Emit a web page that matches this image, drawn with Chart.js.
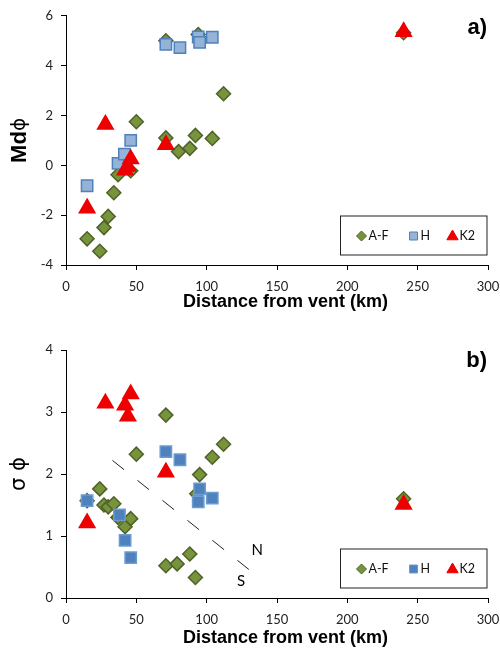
<!DOCTYPE html>
<html lang="en">
<head>
  <meta charset="UTF-8" />
  <title>Md and sorting vs distance from vent</title>
  <script src="https://cdn.jsdelivr.net/npm/chart.js@4"></script>
  <style>
    html, body { margin: 0; padding: 0; background: #fff; }
    body { width: 500px; height: 655px; overflow: hidden; }
    canvas { display: block; }
  </style>
</head>
<body>
  <canvas id="chartA" width="500" height="320"></canvas>
  <canvas id="chartB" width="500" height="335"></canvas>

  <script>
    // axis ticks
    const xTicks = [0, 50, 100, 150, 200, 250, 300];
    const mdTicks = [-4, -2, 0, 2, 4, 6];
    const sigmaTicks = [0, 1, 2, 3, 4];

    // panel a) median grain size, Md phi
    const afDistA = [15, 24, 27, 30, 34, 37, 46, 50, 71, 71, 80, 88, 92, 94, 104, 112, 240];
    const afMd    = [-2.95, -3.45, -2.5, -2.05, -1.1, -0.38, -0.22, 1.75, 5.0, 1.1, 0.55, 0.68, 1.2, 5.25, 1.08, 2.87, 5.32];
    const hDistA  = [15, 37, 41.5, 46, 71, 81, 94, 95, 104];
    const hMd     = [-0.82, 0.08, 0.45, 1.0, 4.85, 4.72, 5.15, 4.93, 5.14];
    const k2DistA = [15, 28, 42, 44, 46, 71, 240];
    const k2Md    = [-1.72, 1.64, -0.2, -0.05, 0.25, 0.83, 5.36];

    // panel b) sorting, sigma phi
    const afDistB  = [15, 24, 27, 30, 34, 37, 42, 46, 50, 71, 71, 79, 88, 92, 93, 95, 104, 112, 240];
    const afSigma  = [1.57, 1.76, 1.5, 1.47, 1.52, 1.3, 1.15, 1.28, 2.32, 2.95, 0.52, 0.55, 0.71, 0.33, 1.68, 1.99, 2.27, 2.48, 1.6];
    const hDistB   = [15, 38, 42, 46, 71, 81, 94, 95, 104];
    const hSigma   = [1.57, 1.34, 0.93, 0.65, 2.36, 2.23, 1.55, 1.76, 1.61];
    const k2DistB  = [15, 28, 42, 44, 46, 71, 240];
    const k2Sigma  = [1.21, 3.14, 3.11, 2.93, 3.29, 2.03, 1.51];

    // N / S divide (dashed), in data units
    const divideDist  = [33, 130];
    const divideSigma = [2.22, 0.46];
    const divideText  = ['N', 'S'];
    const divideTextAt = [[136, 0.77], [124.5, 0.27]];

    const pts = (xs, ys) => xs.map((x, i) => ({ x, y: ys[i] }));

    const FONT = 'Lato, "Liberation Sans", sans-serif';

    function marker(ctx, style, x, y, r) {
      ctx.beginPath();
      if (style === 'rectRot') {
        ctx.moveTo(x, y - r); ctx.lineTo(x + r, y); ctx.lineTo(x, y + r); ctx.lineTo(x - r, y);
      } else if (style === 'rect') {
        ctx.rect(x - r, y - r, 2 * r, 2 * r);
      } else {
        ctx.moveTo(x, y - r); ctx.lineTo(x + r * 0.87, y + r * 0.5); ctx.lineTo(x - r * 0.87, y + r * 0.5);
      }
      ctx.closePath();
      ctx.fill();
      ctx.stroke();
    }

    function decor(opt) {
      return {
        id: 'decor',
        afterDraw(chart) {
          const { ctx, chartArea: a, scales } = chart;
          ctx.save();

          // x title
          ctx.fillStyle = '#000';
          ctx.font = 'bold 18px "Liberation Sans", Arial, sans-serif';
          ctx.textAlign = 'center';
          ctx.textBaseline = 'middle';
          ctx.fillText('Distance from vent (km)', 285.5, opt.xTitleY);

          // y title, rotated
          ctx.save();
          ctx.translate(opt.yTitleX, (a.top + a.bottom) / 2);
          ctx.rotate(-Math.PI / 2);
          ctx.textAlign = 'left';
          ctx.font = opt.yFont1;
          const w1 = ctx.measureText(opt.yText1).width;
          ctx.font = opt.yFont2;
          const w2 = ctx.measureText(opt.yText2).width;
          let x0 = -(w1 + w2) / 2;
          ctx.font = opt.yFont1;
          ctx.fillText(opt.yText1, x0, 0);
          ctx.font = opt.yFont2;
          ctx.fillText(opt.yText2, x0 + w1, 0);
          ctx.restore();

          // panel letter
          ctx.font = 'bold 22px "Liberation Sans", Arial, sans-serif';
          ctx.textAlign = 'right';
          ctx.fillText(opt.panel, 487, opt.panelY);

          // N / S labels
          if (opt.divide) {
            ctx.font = '15px ' + FONT;
            ctx.textAlign = 'center';
            divideText.forEach((t, i) => {
              ctx.fillText(t, scales.x.getPixelForValue(divideTextAt[i][0]), scales.y.getPixelForValue(divideTextAt[i][1]));
            });
          }

          // legend box
          const bx = 340.5, bw = 146.5, bh = 39, by = a.bottom - 10 - bh;
          ctx.lineWidth = 1;
          ctx.strokeStyle = '#222';
          ctx.strokeRect(bx, by, bw, bh);
          const cy = by + bh / 2 + 0.5;
          const items = chart.data.datasets.filter(d => d.legendAt !== undefined);
          items.sort((p, q) => p.legendAt - q.legendAt);
          items.forEach(d => {
            ctx.fillStyle = d.backgroundColor;
            ctx.strokeStyle = d.borderColor;
            ctx.lineWidth = 1;
            const r = d.pointStyle === 'rect' ? 4 : (d.pointStyle === 'rectRot' ? 5 : 6.5);
            marker(ctx, d.pointStyle, bx + d.legendAt, d.pointStyle === 'triangle' ? cy + 0.5 : cy, r);
            ctx.fillStyle = '#111';
            ctx.font = '12.5px ' + FONT;
            ctx.textAlign = 'left';
            ctx.fillText(d.label, bx + d.legendAt + 7, cy);
          });

          ctx.restore();
        }
      };
    }

    function scatterSet(label, data, style, r, fill, line, order, legendAt) {
      return {
        label, data, order, legendAt,
        pointStyle: style,
        pointRadius: r,
        pointHoverRadius: r,
        backgroundColor: fill,
        borderColor: line,
        pointBorderWidth: 1.5
      };
    }

    function axes(yTicks, yMin, yMax, xHeight) {
      return {
        x: {
          type: 'linear', min: 0, max: 300,
          afterBuildTicks: s => { s.ticks = xTicks.map(v => ({ value: v })); },
          afterFit: s => { s.height = xHeight; s.paddingLeft = 0; s.paddingRight = 0; },
          grid: { drawOnChartArea: false, color: '#000', tickLength: 5 },
          border: { color: '#000', width: 1 },
          ticks: { color: '#222', font: { family: FONT, size: 13 }, padding: 9, maxRotation: 0 }
        },
        y: {
          type: 'linear', min: yMin, max: yMax,
          afterBuildTicks: s => { s.ticks = yTicks.map(v => ({ value: v })); },
          afterFit: s => { s.width = 66; },
          grid: { drawOnChartArea: false, color: '#000', tickLength: 5 },
          border: { color: '#000', width: 1 },
          ticks: { color: '#222', font: { family: FONT, size: 13 }, padding: 8 }
        }
      };
    }

    const common = {
      responsive: false,
      animation: false,
      plugins: { legend: { display: false }, tooltip: { enabled: false } }
    };

    new Chart(document.getElementById('chartA'), {
      type: 'scatter',
      data: {
        datasets: [
          scatterSet('K2', pts(k2DistA, k2Md), 'triangle', 9, '#EE0000', '#EE0000', 0, 112),
          scatterSet('H', pts(hDistA, hMd), 'rect', 8, '#95B3D7', '#4F81BD', 1, 73),
          scatterSet('A-F', pts(afDistA, afMd), 'rectRot', 7, '#77933C', '#4F6228', 2, 21)
        ]
      },
      options: Object.assign({}, common, {
        layout: { padding: { top: 15, right: 12, left: 0, bottom: 0 } },
        scales: axes(mdTicks, -4, 6, 55)
      }),
      plugins: [decor({
        xTitleY: 302, yTitleX: 20, panel: 'a)', panelY: 28,
        yText1: 'Md', yFont1: 'bold 22px "Liberation Sans Narrow", "Liberation Sans", sans-serif',
        yText2: 'ϕ', yFont2: '20px "DejaVu Sans", sans-serif'
      })]
    });

    new Chart(document.getElementById('chartB'), {
      type: 'scatter',
      data: {
        datasets: [
          scatterSet('K2', pts(k2DistB, k2Sigma), 'triangle', 9, '#EE0000', '#EE0000', 0, 112),
          scatterSet('H', pts(hDistB, hSigma), 'rect', 8, '#4F81BD', '#6C9BD2', 1, 73),
          scatterSet('A-F', pts(afDistB, afSigma), 'rectRot', 7, '#77933C', '#4F6228', 2, 21),
          {
            label: 'divide', data: pts(divideDist, divideSigma), order: 3,
            showLine: true, pointRadius: 0, borderColor: '#222', borderWidth: 1, borderDash: [15, 17]
          }
        ]
      },
      options: Object.assign({}, common, {
        layout: { padding: { top: 30, right: 12, left: 0, bottom: 0 } },
        scales: axes(sigmaTicks, 0, 4, 57)
      }),
      plugins: [decor({
        xTitleY: 318, yTitleX: 20, panel: 'b)', panelY: 41, divide: true,
        yText1: 'σ ', yFont1: '21px "DejaVu Sans", sans-serif',
        yText2: 'ϕ', yFont2: '21px "DejaVu Sans", sans-serif'
      })]
    });
  </script>
</body>
</html>
